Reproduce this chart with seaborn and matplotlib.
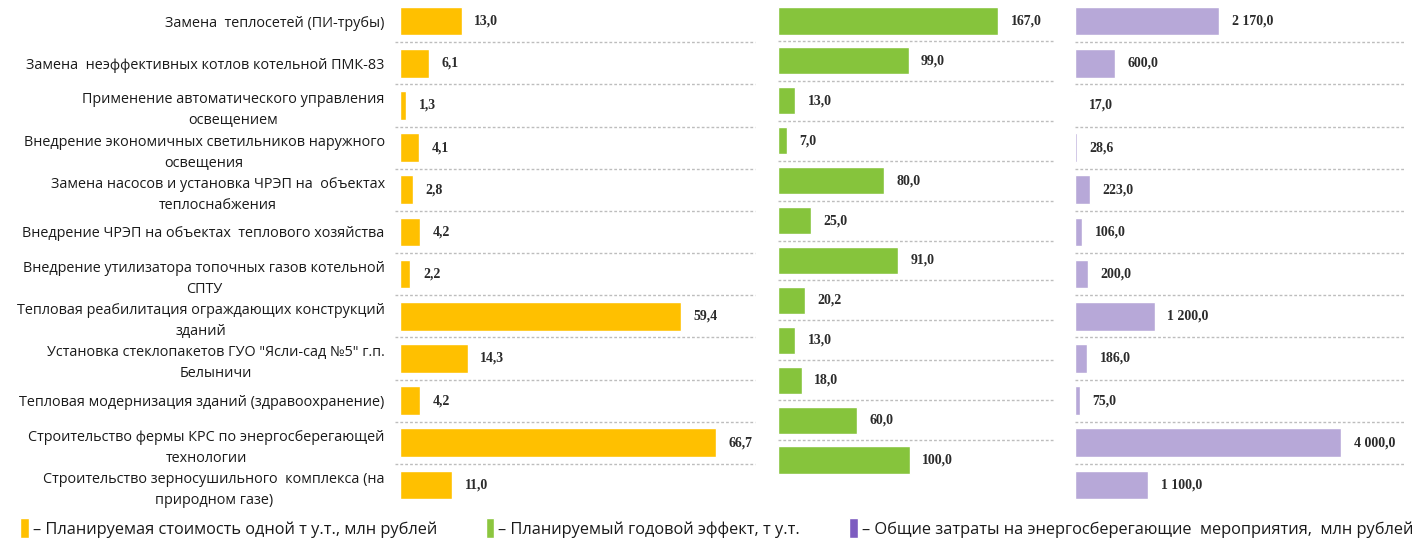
import matplotlib
matplotlib.use("Agg")
import matplotlib.pyplot as plt
import seaborn as sns
import pandas as pd
from matplotlib.patches import Patch

categories = [
    "Замена  теплосетей (ПИ-трубы)",
    "Замена  неэффективных котлов котельной ПМК-83",
    "Применение автоматического управления\nосвещением",
    "Внедрение экономичных светильников наружного\nосвещения",
    "Замена насосов и установка ЧРЭП на  объектах\nтеплоснабжения",
    "Внедрение ЧРЭП на объектах  теплового хозяйства",
    "Внедрение утилизатора топочных газов котельной\nСПТУ",
    "Тепловая реабилитация ограждающих конструкций\nзданий",
    "Установка стеклопакетов ГУО \"Ясли-сад №5\" г.п.\nБелыничи",
    "Тепловая модернизация зданий (здравоохранение)",
    "Строительство фермы КРС по энергосберегающей\nтехнологии",
    "Строительство зерносушильного  комплекса (на\nприродном газе)",
]
cost_per_ton = [13.0, 6.1, 1.3, 4.1, 2.8, 4.2, 2.2, 59.4, 14.3, 4.2, 66.7, 11.0]
annual_effect = [167.0, 99.0, 13.0, 7.0, 80.0, 25.0, 91.0, 20.2, 13.0, 18.0, 60.0, 100.0]
total_cost = [2170.0, 600.0, 17.0, 28.6, 223.0, 106.0, 200.0, 1200.0, 186.0, 75.0, 4000.0, 1100.0]

legend_labels = [
    "– Планируемая стоимость одной т у.т., млн рублей",
    "– Планируемый годовой эффект, т у.т.",
    "– Общие затраты на энергосберегающие  мероприятия,  млн рублей",
]

df = pd.DataFrame({
    "category": categories,
    "cost": cost_per_ton,
    "effect": annual_effect,
    "total": total_cost,
})

sns.set_theme(style="white")
plt.rcParams["font.family"] = ["Open Sans", "DejaVu Sans"]


def fmt(v):
    s = f"{v:,.1f}"
    return s.replace(",", " ").replace(".", ",")


def draw_panel(ax, column, color, xmax, show_labels=False, sep_extend=(0.0, 1.0)):
    sns.barplot(data=df, x=column, y="category", orient="h", color=color,
                saturation=1, width=0.68, ax=ax)
    ax.set_xlim(0, xmax)
    ax.set_ylim(len(df) - 0.5, -0.5)
    for i in range(len(df) - 1):
        ax.axhline(i + 0.5, xmin=sep_extend[0], xmax=sep_extend[1], color="#bdbdbd",
                   linewidth=1.0, linestyle=(0, (2, 1.5)), clip_on=False, zorder=0)
    ax.bar_label(ax.containers[0], labels=[fmt(v) for v in df[column]], padding=9,
                 fontsize=10, fontweight="bold", color="#2b2b2b",
                 family="Liberation Serif")
    ax.set_xlabel("")
    ax.set_ylabel("")
    ax.set_xticks([])
    for s in ax.spines.values():
        s.set_visible(False)
    if show_labels:
        ax.tick_params(axis="y", length=0, pad=11, labelsize=10.35, labelcolor="#1a1a1a")
        for t in ax.get_yticklabels():
            t.set_multialignment("center")
            t.set_linespacing(1.55)
    else:
        ax.set_yticks([])


fig = plt.figure(figsize=(14.2, 5.45), dpi=100)
W, H = 1420, 545

ax1 = fig.add_axes([400 / W, 39 / H, 355 / W, 506 / H])
ax2 = fig.add_axes([778 / W, 65 / H, 277 / W, 479 / H])
ax3 = fig.add_axes([1075 / W, 39 / H, 330 / W, 506 / H])

draw_panel(ax1, "cost", "#FFC000", 75, show_labels=True, sep_extend=(-0.015, 1.0))
draw_panel(ax2, "effect", "#86C43C", 210)
draw_panel(ax3, "total", "#B7A8D8", 4960)

handles = [Patch(facecolor="#FFC000"), Patch(facecolor="#8CC63F"), Patch(facecolor="#7D5CC0")]
fig.legend(handles, legend_labels, loc="center left", bbox_to_anchor=(0.004, 0.031),
           ncol=3, frameon=False, fontsize=11.8, handlelength=0.5, handleheight=1.5,
           handletextpad=0.25, columnspacing=3.0, labelcolor="#1a1a1a")

fig.savefig("out.png", dpi=100, facecolor="white")
